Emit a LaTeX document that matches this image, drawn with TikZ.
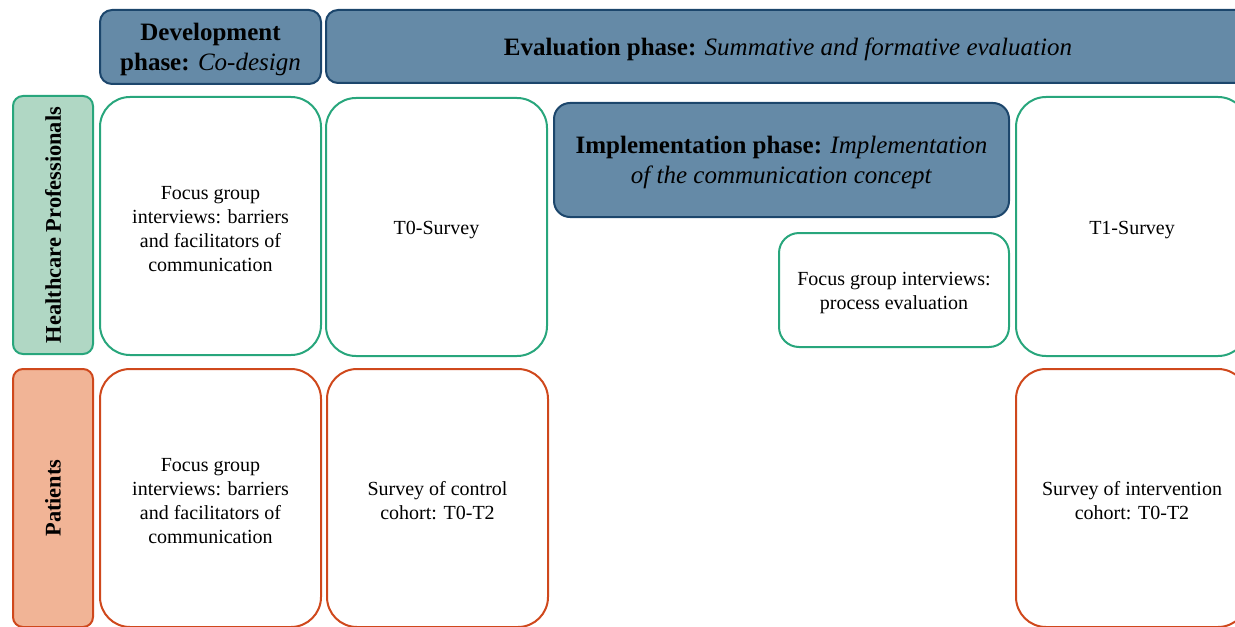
\documentclass[tikz,border=0pt]{standalone}
\usepackage{fontspec}
\setmainfont{Liberation Serif}
\usepackage{xcolor}
\usepackage{tikz}
\definecolor{phasefill}{RGB}{101,138,167}
\definecolor{phaseline}{RGB}{28,70,108}
\definecolor{hpfill}{RGB}{176,215,196}
\definecolor{hpline}{RGB}{40,166,124}
\definecolor{ptfill}{RGB}{241,180,150}
\definecolor{ptline}{RGB}{207,72,28}
\newcommand{\cellgap}{\rule{0pt}{9.8pt}}
\newcommand{\phasegap}{\rule{0pt}{11.6pt}}

\begin{document}
\begin{tikzpicture}[x=0.5pt,y=-0.5pt,
        every node/.style={inner sep=0pt,outer sep=0pt,align=center},
        phase/.style={draw=phaseline,fill=phasefill,line width=1pt,rounded corners=6pt,font=\fontsize{12.5}{15}\selectfont},
        hplabel/.style={draw=hpline,fill=hpfill,line width=1pt,rounded corners=5pt,rotate=90,minimum width=129pt,minimum height=40pt,font=\fontsize{11.2}{13}\selectfont\bfseries},
        ptlabel/.style={hplabel,draw=ptline,fill=ptfill},
        hpcell/.style={draw=hpline,line width=1pt,rounded corners=15pt,minimum height=129pt,font=\fontsize{10}{12}\selectfont},
        ptcell/.style={hpcell,draw=ptline}]
        %%% CANVAS %%%
        \useasboundingbox (0,0) rectangle (1235,626);
        \clip (0,0) rectangle (1235,626);

        %%% PHASES %%%
        \node[phase,minimum width=110.5pt,minimum height=37pt] (dev) at (210.5,47)
            {\phasegap\textbf{Development}\\\textbf{phase:} \textit{Co-design}};
        \node[phase,minimum width=462pt,minimum height=36.5pt] (eval) at (788,46.5)
            {\phasegap\textbf{Evaluation phase:} \textit{Summative and formative evaluation}};
        \node[phase,rounded corners=8pt,minimum width=227.5pt,minimum height=57pt] (impl) at (781.5,160)
            {\phasegap\textbf{Implementation phase:} \textit{Implementation}\\\textit{of the communication concept}};

        %%% HEALTHCARE PROFESSIONALS %%%
        \node[hplabel] (hp) at (53,225) {Healthcare Professionals};
        \node[hpcell,minimum width=110.5pt] (hpfocus) at (210.5,226)
            {\cellgap Focus group\\interviews: barriers\\and facilitators of\\communication};
        \node[hpcell,minimum width=110.5pt] (hpt0) at (436.5,227) {\cellgap T0-Survey};
        \node[hpcell,rounded corners=10pt,minimum width=115pt,minimum height=57pt] (hpproc) at (894,290)
            {\cellgap Focus group interviews:\\process evaluation};
        \node[hpcell,minimum width=116pt,minimum height=129.5pt] (hpt1) at (1132,226.5) {\cellgap T1-Survey};

        %%% PATIENTS %%%
        \node[ptlabel] (pt) at (53,498) {Patients};
        \node[ptcell,minimum width=110.5pt] (ptfocus) at (210.5,498)
            {\cellgap Focus group\\interviews: barriers\\and facilitators of\\communication};
        \node[ptcell,minimum width=110.5pt] (ptcontrol) at (437.5,498)
            {\cellgap Survey of control\\cohort: T0-T2};
        \node[ptcell,minimum width=116pt] (ptinterv) at (1132,498)
            {\cellgap Survey of intervention\\cohort: T0-T2};
    \end{tikzpicture}
\end{document}
